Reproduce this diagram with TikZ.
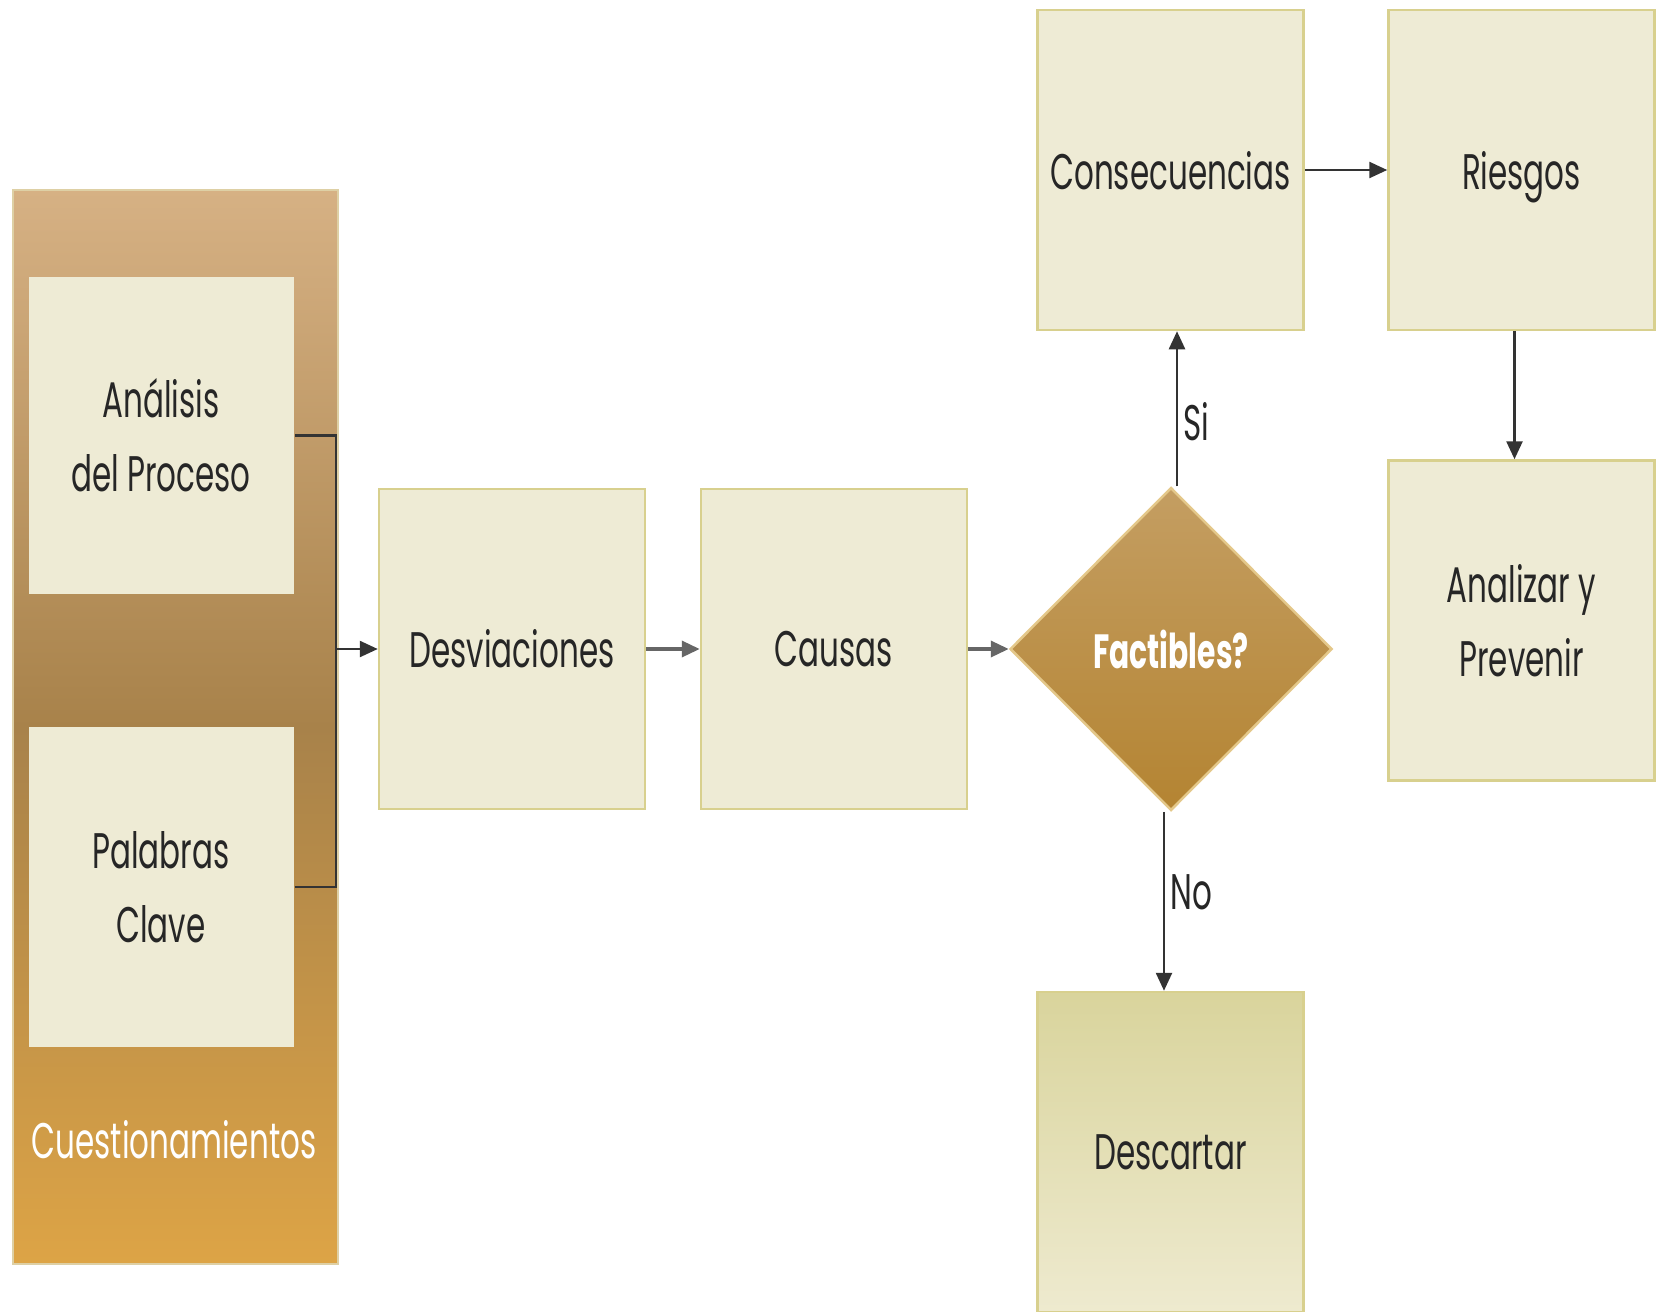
\documentclass[tikz,border=0pt]{standalone}
\usepackage{fontspec}
\setmainfont{Poppins}[FakeStretch=0.62]
\usetikzlibrary{shapes.geometric,arrows.meta}
\definecolor{boxfill}{HTML}{EEEBD5}
\definecolor{boxline}{HTML}{D8D08E}
\definecolor{linec}{HTML}{333333}
\definecolor{ctop}{HTML}{D6B184}
\definecolor{cmid}{HTML}{A8824A}
\definecolor{cbot}{HTML}{DDA446}
\tikzset{
  stepbox/.style={draw=boxline, line width=2.5pt, fill=boxfill, minimum width=266pt, minimum height=320pt, inner sep=0pt, align=center, font=\fontsize{50}{74}\selectfont, text=black!85},
  arr/.style={draw=linec, line width=2.5pt, -{Triangle[length=18pt,width=16pt]}},
  conn/.style={draw=linec, line width=2.5pt},
  lbl/.style={font=\fontsize{50}{60}\selectfont, text=black!85}
}
\begin{document}
\begin{tikzpicture}[x=1pt,y=-1pt]
\useasboundingbox (0,0) rectangle (1658,1312);
% container
\shade[top color=ctop, bottom color=cbot, middle color=cmid] (13,190) rectangle (338,1264);
\draw[draw={rgb,255:red,222;green,208;blue,165}, line width=2.5pt] (13,190) rectangle (338,1264);
\node[font=\fontsize{50}{60}\selectfont, text=white] (cuest) at (174,1140) {Cuestionamientos};
\node[stepbox, minimum width=265pt, minimum height=317pt, draw=none] (ana) at (161,435.5) {Análisis\\del Proceso};
\node[stepbox, minimum width=265pt, minimum height=320pt, draw=none] (pal) at (161,887) {Palabras\\Clave};
\node[stepbox] (desv) at (512,649) {Desviaciones};
\node[stepbox] (caus) at (834,649) {Causas};
\node[diamond, aspect=1, minimum width=322pt, minimum height=323pt, inner sep=0pt,
  top color={rgb,255:red,196;green,158;blue,98}, bottom color={rgb,255:red,180;green,132;blue,50},
  draw={rgb,255:red,228;green,200;blue,138}, line width=2.5pt,
  text=white, font=\bfseries\fontsize{48}{58}\selectfont] (dia) at (1171,649) {Factibles?};
\node[stepbox, text depth=0pt] (cons) at (1170.5,170) {Consecuencias};
\node[stepbox, text depth=0pt] (ries) at (1521.5,170) {Riesgos};
\node[stepbox] (anal) at (1521.5,620.5) {Analizar y\\Prevenir};
\node[stepbox, top color={rgb,255:red,217;green,212;blue,156}, bottom color={rgb,255:red,238;green,234;blue,207}] (desc) at (1170.5,1152) {Descartar};
% connectors
\coordinate (j) at (336,649);
\draw[conn] (ana.east) -| (j);
\draw[conn] (pal.east) -| (j);
\draw[arr] (j) -- (desv.west);
\draw[arr, draw=black!60, line width=3.5pt] (desv.east) -- (caus.west);
\draw[arr, draw=black!60, line width=3.5pt] (caus.east) -- (dia.west);
\draw[arr] ([xshift=6pt]dia.north) -- ([xshift=6pt]dia.north |- cons.south) node[pos=0.42, right, lbl, xshift=2pt] {Si};
\draw[arr] ([xshift=-7pt]dia.south) -- ([xshift=-7pt]dia.south |- desc.north) node[pos=0.45, right, lbl, xshift=2pt] {No};
\draw[arr] (cons.east) -- (ries.west);
\draw[arr] ([xshift=-7pt]ries.south) -- ([xshift=-7pt]ries.south |- anal.north);
\end{tikzpicture}
\end{document}
